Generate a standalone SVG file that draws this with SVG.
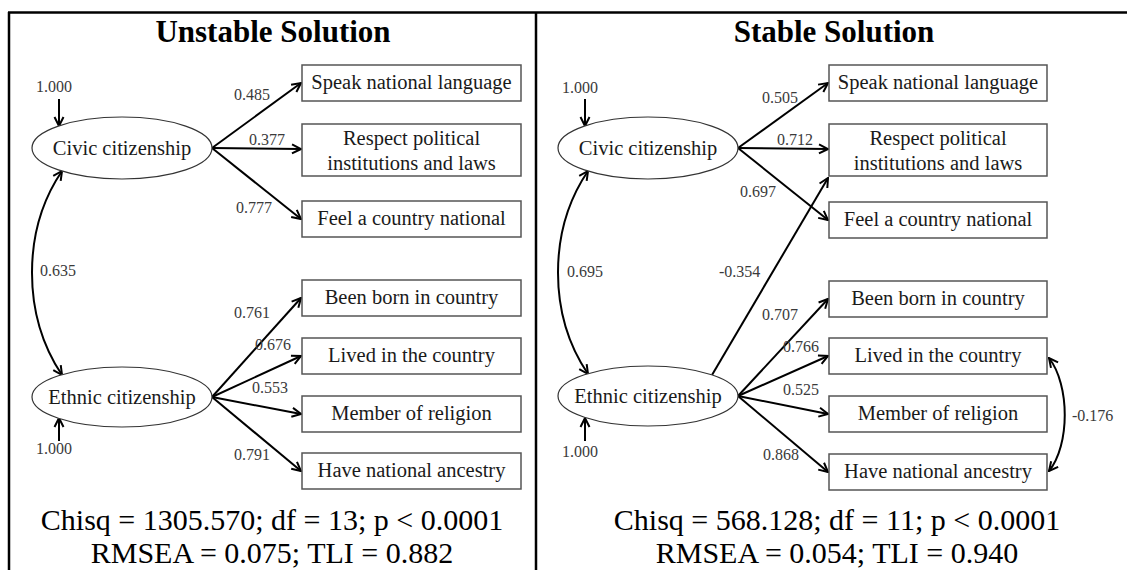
<svg xmlns="http://www.w3.org/2000/svg" width="1127" height="570" viewBox="0 0 1127 570">
<style>
  text { font-family: "Liberation Serif", "Times New Roman", serif; }
  .title { font-size: 31px; font-weight: bold; fill: #000; text-anchor: middle; }
  .fit { font-size: 30px; fill: #000; text-anchor: middle; }
  .lbl { font-size: 20.5px; fill: #1a1a1a; text-anchor: middle; }
  .num { font-size: 16px; fill: #3a3a3a; }
  .box { fill: #fff; stroke: #555; stroke-width: 1.5; }
  .ell { fill: #fff; stroke: #333; stroke-width: 1.2; }
  .frame { stroke: #000; stroke-width: 2.5; fill: none; }
  .edge { stroke: #000; stroke-width: 2; fill: none; }
</style>
<defs>
  <marker id="ah" viewBox="0 0 12 12" refX="11" refY="6" markerWidth="12" markerHeight="12" markerUnits="userSpaceOnUse" orient="auto-start-reverse">
    <path d="M2,1.5 L11,6 L2,10.5" fill="none" stroke="#000" stroke-width="2"/>
  </marker>
</defs>
<rect width="1127" height="570" fill="#fff"/>
<g id="frame">
  <line class="frame" x1="8" y1="12.5" x2="1127" y2="12.5"/>
  <line class="frame" x1="9" y1="12" x2="9" y2="570"/>
  <line class="frame" x1="536" y1="12" x2="536" y2="570"/>
</g>
<g id="titles">
  <text class="title" x="273" y="42">Unstable Solution</text>
  <text class="title" x="834" y="42">Stable Solution</text>
</g>
<g id="connectors">
  <!-- left panel -->
  <line class="edge" x1="59" y1="99" x2="59" y2="126" marker-end="url(#ah)"/>
  <line class="edge" x1="59" y1="441" x2="59" y2="418" marker-end="url(#ah)"/>
  <path class="edge" d="M62 171 C22 230 22 315 62 375" marker-start="url(#ah)" marker-end="url(#ah)"/>
  <line class="edge" x1="212" y1="148" x2="301" y2="83" marker-end="url(#ah)"/>
  <line class="edge" x1="212" y1="148" x2="301" y2="149" marker-end="url(#ah)"/>
  <line class="edge" x1="212" y1="148" x2="301" y2="219" marker-end="url(#ah)"/>
  <line class="edge" x1="212" y1="397" x2="301" y2="298" marker-end="url(#ah)"/>
  <line class="edge" x1="212" y1="397" x2="301" y2="356" marker-end="url(#ah)"/>
  <line class="edge" x1="212" y1="397" x2="301" y2="414" marker-end="url(#ah)"/>
  <line class="edge" x1="212" y1="397" x2="301" y2="471" marker-end="url(#ah)"/>
  <!-- right panel -->
  <line class="edge" x1="585" y1="99" x2="585" y2="126" marker-end="url(#ah)"/>
  <line class="edge" x1="585" y1="441" x2="585" y2="418" marker-end="url(#ah)"/>
  <path class="edge" d="M588 171 C548 230 548 315 588 374" marker-start="url(#ah)" marker-end="url(#ah)"/>
  <line class="edge" x1="738" y1="148" x2="828" y2="83" marker-end="url(#ah)"/>
  <line class="edge" x1="738" y1="148" x2="828" y2="149" marker-end="url(#ah)"/>
  <line class="edge" x1="738" y1="148" x2="828" y2="220" marker-end="url(#ah)"/>
  <line class="edge" x1="712" y1="375" x2="828" y2="178" marker-end="url(#ah)"/>
  <line class="edge" x1="738" y1="396" x2="828" y2="299" marker-end="url(#ah)"/>
  <line class="edge" x1="738" y1="396" x2="828" y2="356" marker-end="url(#ah)"/>
  <line class="edge" x1="738" y1="396" x2="828" y2="414" marker-end="url(#ah)"/>
  <line class="edge" x1="738" y1="396" x2="828" y2="472" marker-end="url(#ah)"/>
  <path class="edge" d="M1049 358 C1070 385 1070 445 1049 471" marker-start="url(#ah)" marker-end="url(#ah)"/>
</g>
<g id="numbers">
  <text class="num" x="36" y="92">1.000</text>
  <text class="num" x="36" y="454">1.000</text>
  <text class="num" x="234" y="100">0.485</text>
  <text class="num" x="249" y="145">0.377</text>
  <text class="num" x="236" y="213">0.777</text>
  <text class="num" x="40" y="276">0.635</text>
  <text class="num" x="234" y="318">0.761</text>
  <text class="num" x="255" y="350">0.676</text>
  <text class="num" x="252" y="393">0.553</text>
  <text class="num" x="234" y="460">0.791</text>

  <text class="num" x="562" y="93">1.000</text>
  <text class="num" x="562" y="457">1.000</text>
  <text class="num" x="762" y="103">0.505</text>
  <text class="num" x="777" y="145">0.712</text>
  <text class="num" x="740" y="197">0.697</text>
  <text class="num" x="567" y="277">0.695</text>
  <text class="num" x="719" y="277">-0.354</text>
  <text class="num" x="762" y="320">0.707</text>
  <text class="num" x="783" y="352">0.766</text>
  <text class="num" x="783" y="395">0.525</text>
  <text class="num" x="763" y="460">0.868</text>
  <text class="num" x="1072" y="421">-0.176</text>
</g>
<g id="L-civic">
  <ellipse class="ell" cx="122" cy="148" rx="90" ry="31"/>
  <text class="lbl" x="122" y="155">Civic citizenship</text>
</g>
<g id="L-ethnic">
  <ellipse class="ell" cx="122" cy="397" rx="90" ry="30"/>
  <text class="lbl" x="122" y="404">Ethnic citizenship</text>
</g>
<g id="L-speak">
  <rect class="box" x="302" y="65" width="219" height="36"/>
  <text class="lbl" x="411.5" y="89">Speak national language</text>
</g>
<g id="L-respect">
  <rect class="box" x="302" y="124" width="219" height="52"/>
  <text class="lbl" x="411.5" y="145">Respect political</text>
  <text class="lbl" x="411.5" y="170">institutions and laws</text>
</g>
<g id="L-feel">
  <rect class="box" x="302" y="201" width="219" height="36"/>
  <text class="lbl" x="411.5" y="225">Feel a country national</text>
</g>
<g id="L-born">
  <rect class="box" x="302" y="280" width="219" height="36"/>
  <text class="lbl" x="411.5" y="304">Been born in country</text>
</g>
<g id="L-lived">
  <rect class="box" x="302" y="338" width="219" height="36"/>
  <text class="lbl" x="411.5" y="362">Lived in the country</text>
</g>
<g id="L-member">
  <rect class="box" x="302" y="396" width="219" height="36"/>
  <text class="lbl" x="411.5" y="420">Member of religion</text>
</g>
<g id="L-ancestry">
  <rect class="box" x="302" y="453" width="219" height="36"/>
  <text class="lbl" x="411.5" y="477">Have national ancestry</text>
</g>
<g id="R-civic">
  <ellipse class="ell" cx="648" cy="148" rx="90" ry="31"/>
  <text class="lbl" x="648" y="155">Civic citizenship</text>
</g>
<g id="R-ethnic">
  <ellipse class="ell" cx="648" cy="396" rx="90" ry="30"/>
  <text class="lbl" x="648" y="403">Ethnic citizenship</text>
</g>
<g id="R-speak">
  <rect class="box" x="829" y="65" width="218" height="36"/>
  <text class="lbl" x="938" y="89">Speak national language</text>
</g>
<g id="R-respect">
  <rect class="box" x="829" y="124" width="218" height="52"/>
  <text class="lbl" x="938" y="145">Respect political</text>
  <text class="lbl" x="938" y="170">institutions and laws</text>
</g>
<g id="R-feel">
  <rect class="box" x="829" y="202" width="218" height="36"/>
  <text class="lbl" x="938" y="226">Feel a country national</text>
</g>
<g id="R-born">
  <rect class="box" x="829" y="281" width="218" height="36"/>
  <text class="lbl" x="938" y="305">Been born in country</text>
</g>
<g id="R-lived">
  <rect class="box" x="829" y="338" width="218" height="36"/>
  <text class="lbl" x="938" y="362">Lived in the country</text>
</g>
<g id="R-member">
  <rect class="box" x="829" y="396" width="218" height="36"/>
  <text class="lbl" x="938" y="420">Member of religion</text>
</g>
<g id="R-ancestry">
  <rect class="box" x="829" y="454" width="218" height="36"/>
  <text class="lbl" x="938" y="478">Have national ancestry</text>
</g>
<g id="fit">
  <text class="fit" x="272" y="530">Chisq = 1305.570; df = 13; p &lt; 0.0001</text>
  <text class="fit" x="272" y="563">RMSEA = 0.075; TLI = 0.882</text>
  <text class="fit" x="837" y="530">Chisq = 568.128; df = 11; p &lt; 0.0001</text>
  <text class="fit" x="837" y="563">RMSEA = 0.054; TLI = 0.940</text>
</g>
</svg>
